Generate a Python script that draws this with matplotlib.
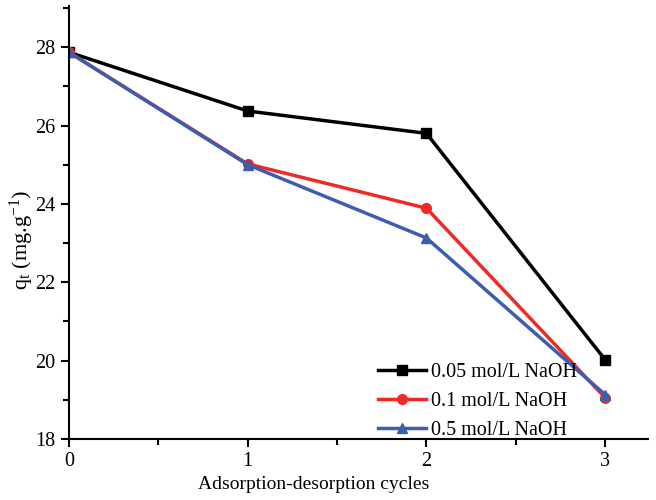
import matplotlib.pyplot as plt
from matplotlib.ticker import MultipleLocator

plt.rcParams['font.family'] = ['Liberation Serif', 'DejaVu Serif']
plt.rcParams['mathtext.fontset'] = 'custom'
plt.rcParams['mathtext.rm'] = 'Liberation Serif'
plt.rcParams['mathtext.it'] = 'Liberation Serif'

cycles = [0, 1, 2, 3]
labels = ['0.05 mol/L NaOH', '0.1 mol/L NaOH', '0.5 mol/L NaOH']
q_005 = [27.87, 26.37, 25.80, 20.02]
q_01 = [27.87, 25.02, 23.89, 19.05]
q_05 = [27.87, 25.00, 23.13, 19.13]

colors = ['#000000', '#ee2a24', '#3d5eae']
markers = ['s', 'o', '^']

fig = plt.figure(figsize=(6.56, 5.0), dpi=100)
ax = fig.add_axes([0.105, 0.122, 0.883, 0.866])

for ys, lab, c, m in zip([q_005, q_01, q_05], labels, colors, markers):
    ax.plot(cycles, ys, color=c, marker=m, markersize=7, linewidth=2.5, label=lab)

ax.set_xlim(0, 3.24)
ax.set_ylim(18, 29.05)
ax.xaxis.set_major_locator(MultipleLocator(1))
ax.xaxis.set_minor_locator(MultipleLocator(0.5))
ax.yaxis.set_major_locator(MultipleLocator(2))
ax.yaxis.set_minor_locator(MultipleLocator(1))
ax.tick_params(which='both', direction='out', width=1.5, labelsize=14.5)
ax.tick_params(which='major', length=6)
ax.tick_params(which='minor', length=4)
for s in ['top', 'right']:
    ax.spines[s].set_visible(False)
for s in ['left', 'bottom']:
    ax.spines[s].set_linewidth(1.5)

ax.set_xlabel('Adsorption-desorption cycles', fontsize=14)
ax.xaxis.set_label_coords(0.423, -0.085)
ax.set_ylabel(r'q$_\mathrm{t}$ (mg.g$^{\mathrm{-1}}$)', fontsize=16)
ax.yaxis.set_label_coords(-0.056, 0.46)

ax.legend(loc='lower left', bbox_to_anchor=(0.534, -0.003), frameon=False,
          fontsize=14.5, handlelength=2.35, handletextpad=0.25, labelspacing=0.5,
          borderpad=0, borderaxespad=0)

fig.savefig('out.png', dpi=100)
